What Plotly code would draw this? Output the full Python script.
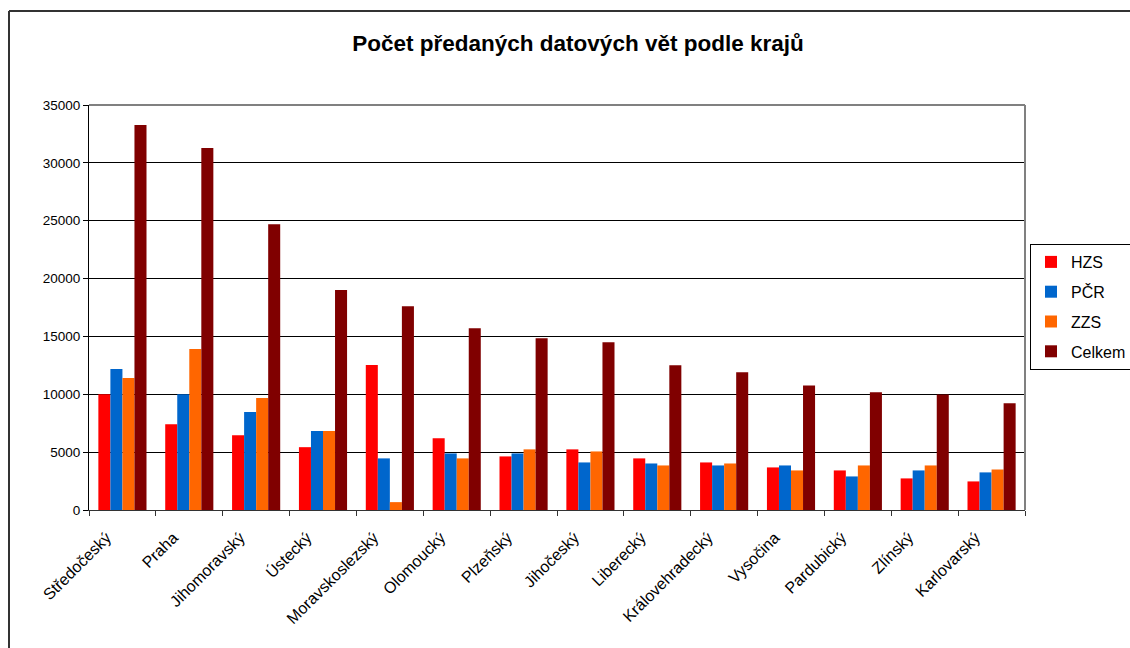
import plotly.graph_objects as go

categories = ["Středočeský", "Praha", "Jihomoravský", "Ústecký", "Moravskoslezský",
              "Olomoucký", "Plzeňský", "Jihočeský", "Liberecký", "Královehradecký",
              "Vysočina", "Pardubický", "Zlínský", "Karlovarský"]
hzs = [10000, 7420, 6470, 5430, 12530, 6190, 4630, 5240, 4460, 4110, 3680, 3420, 2730, 2470]
pcr = [12190, 10000, 8460, 6820, 4460, 4890, 4890, 4110, 4020, 3850, 3850, 2900, 3420, 3250]
zzs = [11410, 13910, 9670, 6820, 680, 4460, 5240, 5060, 3850, 4020, 3420, 3850, 3850, 3500]
celkem = [33270, 31280, 24700, 19020, 17610, 15700, 14840, 14490, 12500, 11900, 10770, 10170, 9990, 9220]

series_names = ["HZS", "PČR", "ZZS", "Celkem"]
series_values = [hzs, pcr, zzs, celkem]
series_colors = ["#FF0000", "#0066CC", "#FF6600", "#800000"]
y_ticks = [0, 5000, 10000, 15000, 20000, 25000, 30000, 35000]

FONT = "Liberation Sans, Arial, sans-serif"

fig = go.Figure()
for name, vals, col in zip(series_names, series_values, series_colors):
    fig.add_trace(go.Bar(name=name, x=categories, y=vals, marker_color=col,
                         marker_line_width=0, legendgroup=name))

W, H = 1130, 648
L, R, T, B = 89, 105, 105, 138
pw = W - L - R
ph = H - T - B

def px_x(p):
    return (p - L) / pw

def px_y(p):
    return (H - B - p) / ph

fig.update_layout(
    width=W, height=H,
    margin=dict(l=L, r=R, t=T, b=B, autoexpand=False),
    paper_bgcolor="white", plot_bgcolor="white",
    font=dict(family=FONT, color="black", size=13),
    barmode="group", bargap=0.28, bargroupgap=0,
    title=dict(text="<b>Počet předaných datových vět podle krajů</b>",
               x=578 / W, xref="container", xanchor="center",
               y=1 - 43 / H, yref="container", yanchor="middle",
               font=dict(family=FONT, size=22.5, color="black")),
    legend=dict(x=1030 / W, y=1 - 307 / H, xref="container", yref="container",
                xanchor="left", yanchor="middle",
                bordercolor="black", borderwidth=1, bgcolor="white",
                font=dict(family=FONT, size=16, color="black"),
                tracegroupgap=6, traceorder="grouped", itemwidth=30),
    xaxis=dict(showgrid=False, showline=True, linecolor="#333333", linewidth=1,
               ticks="outside", ticklen=5, tickcolor="#333333", tickson="boundaries",
               tickangle=-45, tickfont=dict(family=FONT, size=16, color="black"),
               ticklabelshift=-16, ticklabelstandoff=11,
               range=[-0.5, len(categories) - 0.5]),
    yaxis=dict(range=[0, 35000], tickvals=y_ticks, ticktext=[str(v) for v in y_ticks],
               showgrid=True, gridcolor="black", gridwidth=1,
               showline=True, linecolor="black", linewidth=1,
               ticks="outside", ticklen=5, tickcolor="black",
               tickfont=dict(family=FONT, size=13.5, color="black"), zeroline=False),
    shapes=[
        dict(type="line", xref="paper", yref="paper", x0=0, x1=1, y0=1, y1=1,
             line=dict(color="#808080", width=2)),
        dict(type="line", xref="paper", yref="paper", x0=1, x1=1, y0=0, y1=1,
             line=dict(color="#808080", width=2)),
        dict(type="line", xref="paper", yref="paper", x0=px_x(9), x1=px_x(1140),
             y0=px_y(11), y1=px_y(11), line=dict(color="#333333", width=2)),
        dict(type="line", xref="paper", yref="paper", x0=px_x(9), x1=px_x(9),
             y0=px_y(11), y1=px_y(660), line=dict(color="#333333", width=2)),
    ],
)

fig.write_html("out.html", config={"displayModeBar": False},
               post_script="document.body.style.margin='0';")
